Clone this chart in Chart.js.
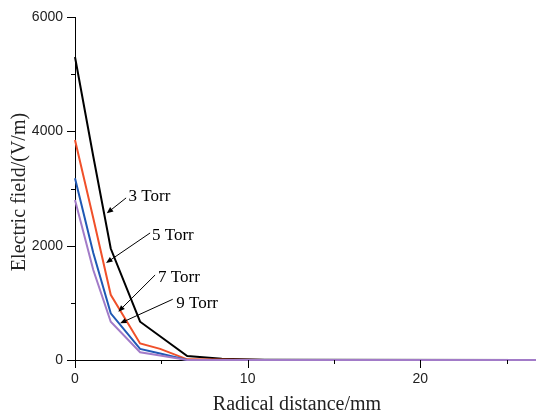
<!DOCTYPE html>
<html>
<head>
<meta charset="utf-8">
<script src="https://cdn.jsdelivr.net/npm/chart.js@4/dist/chart.umd.min.js"></script>
<style>
  html, body { margin: 0; padding: 0; background: #fff; }
  #wrap { width: 536px; height: 417px; }
</style>
</head>
<body>
<div id="wrap"><canvas id="chart"></canvas></div>
<script>
// radial distance (mm) and electric field (V/m)
const x3Torr = [0, 1.06, 2.07, 3.77, 6.5, 8.5, 11, 26.7];
const e3Torr = [5300, 3560, 1950, 670, 70, 20, 3, 0];

const x5Torr = [0, 1.06, 2.07, 3.77, 4.93, 6.5, 11, 26.7];
const e5Torr = [3850, 2480, 1140, 290, 195, 12, 0, 0];

const x7Torr = [0, 1.06, 2.07, 3.77, 4.93, 6.5, 26.7];
const e7Torr = [3180, 1870, 817, 195, 115, 0, 0];

const x9Torr = [0, 1.06, 2.07, 3.77, 4.93, 6.5, 26.7];
const e9Torr = [2800, 1575, 670, 135, 80, 0, 0];

const xTicks = [0, 10, 20];
const yTicks = [0, 2000, 4000, 6000];

// callout labels: text anchor and arrow tail -> head, in data units
const calloutText = ['3 Torr', '5 Torr', '7 Torr', '9 Torr'];
const calloutAt = [[3.1, 2780], [4.46, 2100], [4.81, 1365], [5.86, 910]];
const arrowFrom = [[2.96, 2835], [4.35, 2222], [4.64, 1487], [5.66, 1062]];
const arrowTo = [[1.84, 2567], [1.80, 1697], [2.51, 845], [2.61, 642]];

function pts(xs, ys) {
  return xs.map((x, i) => ({ x: x, y: ys[i] }));
}

const serif = '"Liberation Serif", "Times New Roman", serif';
const sans = '"Liberation Sans", Arial, sans-serif';

const extras = {
  id: 'extras',
  afterDatasetsDraw(chart) {
    const ctx = chart.ctx;
    const xs = chart.scales.x, ys = chart.scales.y;
    const area = chart.chartArea;
    ctx.save();
    ctx.strokeStyle = '#000';
    ctx.lineWidth = 1;

    // ticks, long on labelled values, short in between
    xs.ticks.forEach(t => {
      const px = Math.round(xs.getPixelForValue(t.value)) + 0.5;
      const len = xTicks.includes(t.value) ? 8 : 4;
      ctx.beginPath();
      ctx.moveTo(px, area.bottom);
      ctx.lineTo(px, area.bottom + len);
      ctx.stroke();
    });
    ys.ticks.forEach(t => {
      const py = Math.round(ys.getPixelForValue(t.value)) + 0.5;
      const len = yTicks.includes(t.value) ? 8 : 4;
      ctx.beginPath();
      ctx.moveTo(area.left, py);
      ctx.lineTo(area.left - len, py);
      ctx.stroke();
    });

    // callouts
    ctx.fillStyle = '#000';
    ctx.font = '17px ' + serif;
    ctx.textBaseline = 'alphabetic';
    ctx.textAlign = 'left';
    calloutText.forEach((txt, i) => {
      ctx.fillText(txt, xs.getPixelForValue(calloutAt[i][0]), ys.getPixelForValue(calloutAt[i][1]));
      const x0 = xs.getPixelForValue(arrowFrom[i][0]), y0 = ys.getPixelForValue(arrowFrom[i][1]);
      const x1 = xs.getPixelForValue(arrowTo[i][0]), y1 = ys.getPixelForValue(arrowTo[i][1]);
      const a = Math.atan2(y1 - y0, x1 - x0);
      ctx.beginPath();
      ctx.moveTo(x0, y0);
      ctx.lineTo(x1 - 4 * Math.cos(a), y1 - 4 * Math.sin(a));
      ctx.stroke();
      ctx.beginPath();
      ctx.moveTo(x1, y1);
      ctx.lineTo(x1 - 7 * Math.cos(a - 0.4), y1 - 7 * Math.sin(a - 0.4));
      ctx.lineTo(x1 - 7 * Math.cos(a + 0.4), y1 - 7 * Math.sin(a + 0.4));
      ctx.closePath();
      ctx.fill();
    });

    // axis titles
    ctx.fillStyle = '#222';
    ctx.font = '20px ' + serif;
    ctx.textAlign = 'center';
    ctx.fillText('Radical distance/mm', 297, 410);
    ctx.translate(25, 192);
    ctx.rotate(-Math.PI / 2);
    ctx.fillText('Electric field/(V/m)', 0, 0);
    ctx.restore();
  }
};

const line = (label, color, xs, ys) => ({
  label: label,
  data: pts(xs, ys),
  borderColor: color,
  borderWidth: 2,
  pointRadius: 0,
  tension: 0,
  fill: false,
  clip: false
});

new Chart(document.getElementById('chart').getContext('2d'), {
  type: 'line',
  data: {
    datasets: [
      line('9 Torr', '#a27bc8', x9Torr, e9Torr),
      line('7 Torr', '#1f58b4', x7Torr, e7Torr),
      line('5 Torr', '#f0502a', x5Torr, e5Torr),
      line('3 Torr', '#000000', x3Torr, e3Torr)
    ]
  },
  options: {
    responsive: true,
    maintainAspectRatio: false,
    animation: false,
    devicePixelRatio: 1,
    layout: { padding: { top: 17, right: 0, left: 0, bottom: 0 } },
    plugins: { legend: { display: false }, tooltip: { enabled: false } },
    scales: {
      x: {
        type: 'linear',
        min: 0,
        max: 26.7,
        afterFit(s) { s.height = 57; },
        border: { display: true, color: '#000', width: 1 },
        grid: { display: false, drawTicks: true, tickLength: 8 },
        ticks: {
          stepSize: 5,
          includeBounds: false,
          autoSkip: false,
          maxRotation: 0,
          padding: 3,
          color: '#222',
          font: { family: sans, size: 14 },
          callback: v => xTicks.includes(v) ? String(v) : ''
        }
      },
      y: {
        type: 'linear',
        min: 0,
        max: 6000,
        afterFit(s) { s.width = 75; },
        border: { display: true, color: '#000', width: 1 },
        grid: { display: false, drawTicks: true, tickLength: 8 },
        ticks: {
          stepSize: 1000,
          autoSkip: false,
          padding: 4,
          color: '#222',
          font: { family: sans, size: 14 },
          callback: v => yTicks.includes(v) ? String(v) : ''
        }
      }
    }
  },
  plugins: [extras]
});
</script>
</body>
</html>
